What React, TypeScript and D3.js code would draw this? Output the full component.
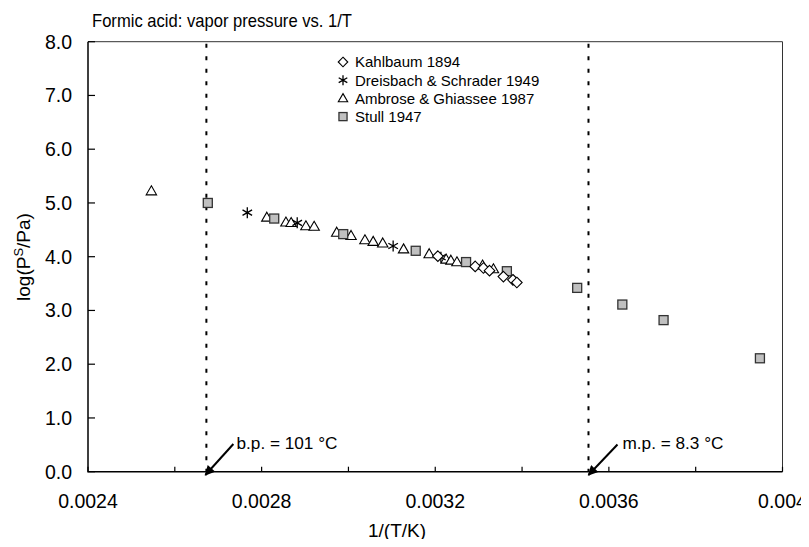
import * as d3 from 'd3';

const kahlbaum: [number, number][] = [
  [0.003206, 4.01], [0.003292, 3.82], [0.003311, 3.79], [0.003325, 3.74],
  [0.003357, 3.63], [0.003379, 3.57], [0.003388, 3.52],
];
const dreisbach: [number, number][] = [
  [0.002767, 4.82], [0.002882, 4.63], [0.003103, 4.2], [0.003213, 3.99],
];
const ambrose: [number, number][] = [
  [0.002546, 5.22], [0.002812, 4.73], [0.002856, 4.64], [0.002868, 4.63],
  [0.002902, 4.57], [0.002921, 4.56], [0.002973, 4.45], [0.003006, 4.39],
  [0.003038, 4.31], [0.003057, 4.28], [0.003079, 4.25], [0.003127, 4.14],
  [0.003186, 4.05], [0.003225, 3.95], [0.003236, 3.93], [0.00325, 3.9],
  [0.003309, 3.84], [0.003334, 3.77],
];
const stull: [number, number][] = [
  [0.002676, 5.0], [0.002829, 4.71], [0.002988, 4.42], [0.003155, 4.11],
  [0.003271, 3.9], [0.003365, 3.73], [0.003527, 3.42], [0.003631, 3.11],
  [0.003726, 2.82], [0.003948, 2.11],
];
const xTickLabels = [0.0024, 0.0028, 0.0032, 0.0036, 0.004];
const yTickLabels = [0, 1, 2, 3, 4, 5, 6, 7, 8];
const boilingPoint = 1 / 374.15;
const meltingPoint = 1 / 281.45;
const legendNames = ['Kahlbaum 1894', 'Dreisbach & Schrader 1949', 'Ambrose & Ghiassee 1987', 'Stull 1947'];

const font = '"Liberation Sans", Arial, Helvetica, sans-serif';

const Marker = ({ kind, x, y, s = 1 }: { kind: number; x: number; y: number; s?: number }) => {
  if (kind === 0) {
    const r = 5.3 * s;
    return <path d={`M${x},${y - r}L${x + r},${y}L${x},${y + r}L${x - r},${y}Z`} fill="white" stroke="#000" strokeWidth={1.1} />;
  }
  if (kind === 1) {
    const r = 5.5 * s;
    const a = r * 0.87;
    return (
      <path d={`M${x},${y - r}V${y + r}M${x - a},${y - r / 2}L${x + a},${y + r / 2}M${x - a},${y + r / 2}L${x + a},${y - r / 2}`}
        stroke="#000" strokeWidth={1.3} fill="none" />
    );
  }
  if (kind === 2) {
    const w = 5.2 * s;
    return <path d={`M${x},${y - 5.3 * s}L${x + w},${y + 3.7 * s}L${x - w},${y + 3.7 * s}Z`} fill="white" stroke="#000" strokeWidth={1.1} />;
  }
  const h = 4.5 * s;
  return <rect x={x - h} y={y - h} width={2 * h} height={2 * h} fill="#c0c0c0" stroke="#333" strokeWidth={1.3} />;
};

export default function App() {
  const width = 809;
  const height = 547;
  const x = d3.scaleLinear().domain([0.0024, 0.004]).range([88, 782.5]);
  const y = d3.scaleLinear().domain([0, 8]).range([471.7, 41.7]);
  const xMinor = d3.range(0, 9).map(i => 0.0024 + i * 0.0002);
  const series = [kahlbaum, dreisbach, ambrose, stull];
  const drawOrder = [2, 3, 1, 0];

  return (
    <svg width={width} height={height} style={{ display: 'block', margin: '-8px' }} fontFamily={font}>
      <rect width={width} height={height} fill="white" />
      <text x={92} y={27} fontSize={19} textLength={260} lengthAdjust="spacingAndGlyphs">Formic acid: vapor pressure vs. 1/T</text>

      {/* plot frame */}
      <path d={`M${x(0.0024)},${y(8)}H${x(0.004)}V${y(0)}`} fill="none" stroke="#333" strokeWidth={1} />
      <path d={`M${x(0.0024)},${y(8)}V${y(0)}H${x(0.004)}`} fill="none" stroke="#000" strokeWidth={1.5} />

      {yTickLabels.map(v => (
        <g key={v}>
          <line x1={x(0.0024)} x2={x(0.0024) + 7} y1={y(v)} y2={y(v)} stroke="#000" strokeWidth={1.2} />
          <text x={72} y={y(v)} dy="0.36em" textAnchor="end" fontSize={19.5}>{v.toFixed(1)}</text>
        </g>
      ))}
      {xMinor.map(v => (
        <line key={v} x1={x(v)} x2={x(v)} y1={y(0)} y2={y(0) - 5} stroke="#000" strokeWidth={1.2} />
      ))}
      {xTickLabels.map(v => (
        <text key={v} x={x(v)} y={501} dy="0.36em" textAnchor="middle" fontSize={19.5}>{String(v)}</text>
      ))}

      <text x={397} y={530} dy="0.36em" textAnchor="middle" fontSize={19}>1/(T/K)</text>
      <text transform={`translate(30,257) rotate(-90)`} textAnchor="middle" fontSize={19}>
        log(P<tspan dy={-7} fontSize={13}>S</tspan><tspan dy={7}>/Pa)</tspan>
      </text>

      {[boilingPoint, meltingPoint].map(v => (
        <line key={v} x1={x(v)} x2={x(v)} y1={y(8) + 2} y2={y(0)} stroke="#000" strokeWidth={2} strokeDasharray="4 8.5" />
      ))}

      {drawOrder.map(k => series[k].map(([a, b], i) => (
        <Marker key={`${k}-${i}`} kind={k} x={x(a)} y={y(b)} />
      )))}

      {legendNames.map((name, i) => (
        <g key={name}>
          <Marker kind={i} x={343} y={62 + i * 18.2} s={0.9} />
          <text x={355} y={62 + i * 18.2} dy="0.36em" fontSize={15}>{name}</text>
        </g>
      ))}

      <defs>
        <marker id="arrow" viewBox="0 0 10 10" refX="9" refY="5" markerWidth="6" markerHeight="5" orient="auto-start-reverse">
          <path d="M0,0L10,5L0,10Z" fill="#000" />
        </marker>
      </defs>
      <line x1={x(boilingPoint) + 27} y1={444} x2={x(boilingPoint) - 1} y2={475} stroke="#000" strokeWidth={2} markerEnd="url(#arrow)" />
      <text x={236.5} y={443} dy="0.36em" fontSize={17.2}>b.p. = 101 °C</text>
      <line x1={x(meltingPoint) + 29} y1={444.5} x2={x(meltingPoint)} y2={475} stroke="#000" strokeWidth={2} markerEnd="url(#arrow)" />
      <text x={622.5} y={443} dy="0.36em" fontSize={17.2}>m.p. = 8.3 °C</text>
    </svg>
  );
}
